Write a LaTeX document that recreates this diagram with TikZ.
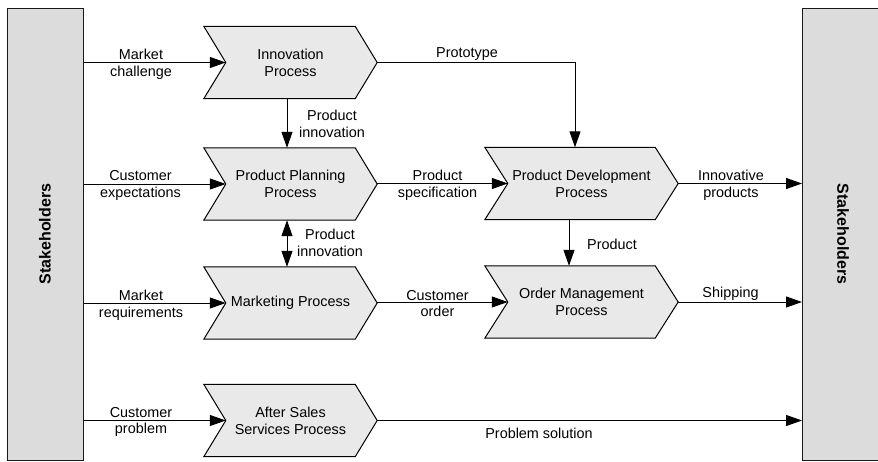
\documentclass[tikz,border=0pt]{standalone}
\usepackage{fontspec}
\setmainfont{Liberation Sans}
\usetikzlibrary{arrows.meta,calc,backgrounds}
\definecolor{chevfill}{RGB}{233,233,233}
\definecolor{stakefill}{RGB}{220,220,220}
\newcommand\drawchev[2]{%
  \path[chev] (#1.north west) -- ($(#1.north east)+(-#2,0)$) -- (#1.east)
    -- ($(#1.south east)+(-#2,0)$) -- (#1.south west) -- ($(#1.west)+(#2,0)$) -- cycle;}
\begin{document}
\begin{tikzpicture}[x=1pt,y=-1pt,
  every node/.style={font=\fontsize{14.4pt}{16.8pt}\selectfont},
  proc/.style={minimum width=173pt, minimum height=72pt, inner sep=0pt, align=center},
  procwide/.style={proc, minimum width=193pt},
  stake/.style={draw=black!90, fill=stakefill, line width=1.1pt, inner sep=0pt},
  staketext/.style={font=\fontsize{16pt}{19pt}\selectfont\bfseries, inner sep=0pt},
  lbl/.style={align=center, inner sep=0pt},
  arr/.style={-{Triangle[length=16pt,width=11pt]}, line width=1pt},
  dblarr/.style={{Triangle[length=16pt,width=11pt]}-{Triangle[length=16pt,width=11pt]}, line width=1pt},
  chev/.style={draw, fill=chevfill, line width=1pt, line join=miter}]
\useasboundingbox (0,0) rectangle (878,461);

% stakeholders
\node[stake, anchor=north west, minimum width=76pt, minimum height=452pt] (sl) at (7,8) {};
\node[stake, anchor=north west, minimum width=82pt, minimum height=452pt] (sr) at (802,8) {};
\node[staketext, rotate=90] (slt) at (45,234) {Stakeholders};
\node[staketext, rotate=-90] (srt) at (843,234) {Stakeholders};

% processes
\node[proc] (inn) at (290.5,62.5) {Innovation\\Process};
\node[proc] (plan) at (290.5,184) {Product Planning\\Process};
\node[proc] (mkt) at (290.5,303) {Marketing Process};
\node[proc] (aft) at (290.5,420.5) {After Sales\\Services Process};
\node[procwide] (dev) at (581.5,183.5) {Product Development\\Process};
\node[procwide] (ord) at (581.5,302) {Order Management\\Process};

\begin{scope}[on background layer]
  \drawchev{inn}{22}
  \drawchev{plan}{22}
  \drawchev{mkt}{22}
  \drawchev{aft}{22}
  \drawchev{dev}{23}
  \drawchev{ord}{23}
\end{scope}

\coordinate (inn-in) at ($(inn.west)+(22,0)$);
\coordinate (plan-in) at ($(plan.west)+(22,0)$);
\coordinate (mkt-in) at ($(mkt.west)+(22,0)$);
\coordinate (aft-in) at ($(aft.west)+(22,0)$);
\coordinate (dev-in) at ($(dev.west)+(23,0)$);
\coordinate (ord-in) at ($(ord.west)+(23,0)$);

% connectors
\draw[arr] (sl.east |- inn-in) -- (inn-in);
\draw[arr] (sl.east |- plan-in) -- (plan-in);
\draw[arr] (sl.east |- mkt-in) -- (mkt-in);
\draw[arr] (sl.east |- aft-in) -- (aft-in);
\draw[arr] ([xshift=-3.5pt]inn.south) -- ([xshift=-3.5pt]plan.north);
\draw[dblarr] ([xshift=-3.5pt]plan.south) -- ([xshift=-3.5pt]mkt.north);
\draw[arr] (inn.east) -| ([xshift=-6.5pt]dev.north);
\draw[arr] (plan.east |- dev-in) -- (dev-in);
\draw[arr] (mkt.east |- ord-in) -- (ord-in);
\draw[arr] ([xshift=-12.5pt]dev.south) -- ([xshift=-12.5pt]ord.north);
\draw[arr] (dev.east) -- (dev.east -| sr.west);
\draw[arr] (ord.east) -- (ord.east -| sr.west);
\draw[arr] (aft.east) -- (aft.east -| sr.west);

% labels
\node[lbl] (l-mc) at (141,64.5) {Market\\challenge};
\node[lbl] (l-ce) at (140.5,185.5) {Customer\\expectations};
\node[lbl] (l-mr) at (141,305) {Market\\requirements};
\node[lbl] (l-cp) at (141,422) {Customer\\problem};
\node[lbl] (l-pi1) at (332,124) {Product\\innovation};
\node[lbl] (l-pi2) at (330,242.5) {Product\\innovation};
\node[lbl] (l-proto) at (467,54) {Prototype};
\node[lbl] (l-ps) at (437.5,185.5) {Product\\specification};
\node[lbl] (l-co) at (437.5,303.5) {Customer\\order};
\node[lbl] (l-prod) at (612,244) {Product};
\node[lbl] (l-ip) at (731,185.5) {Innovative\\products};
\node[lbl] (l-ship) at (730.5,293.7) {Shipping};
\node[lbl] (l-sol) at (539,433) {Problem solution};
\end{tikzpicture}
\end{document}
